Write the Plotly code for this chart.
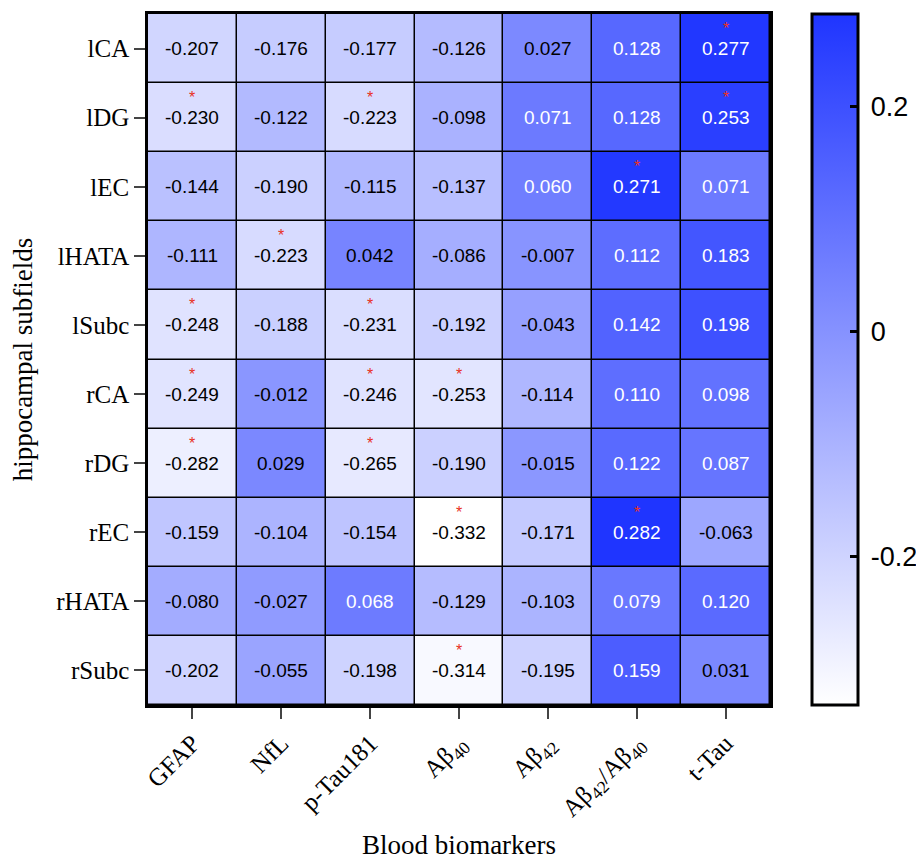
import plotly.graph_objects as go

subfields = ["lCA", "lDG", "lEC", "lHATA", "lSubc", "rCA", "rDG", "rEC", "rHATA", "rSubc"]
biomarkers = ["GFAP", "NfL", "p-Tau181", "Aβ<sub>40</sub>", "Aβ<sub>42</sub>",
              "Aβ<sub>42</sub>/Aβ<sub>40</sub>", "t-Tau"]

r_lCA   = [-0.207, -0.176, -0.177, -0.126,  0.027, 0.128,  0.277]
r_lDG   = [-0.230, -0.122, -0.223, -0.098,  0.071, 0.128,  0.253]
r_lEC   = [-0.144, -0.190, -0.115, -0.137,  0.060, 0.271,  0.071]
r_lHATA = [-0.111, -0.223,  0.042, -0.086, -0.007, 0.112,  0.183]
r_lSubc = [-0.248, -0.188, -0.231, -0.192, -0.043, 0.142,  0.198]
r_rCA   = [-0.249, -0.012, -0.246, -0.253, -0.114, 0.110,  0.098]
r_rDG   = [-0.282,  0.029, -0.265, -0.190, -0.015, 0.122,  0.087]
r_rEC   = [-0.159, -0.104, -0.154, -0.332, -0.171, 0.282, -0.063]
r_rHATA = [-0.080, -0.027,  0.068, -0.129, -0.103, 0.079,  0.120]
r_rSubc = [-0.202, -0.055, -0.198, -0.314, -0.195, 0.159,  0.031]

sig_lCA   = [0, 0, 0, 0, 0, 0, 1]
sig_lDG   = [1, 0, 1, 0, 0, 0, 1]
sig_lEC   = [0, 0, 0, 0, 0, 1, 0]
sig_lHATA = [0, 1, 0, 0, 0, 0, 0]
sig_lSubc = [1, 0, 1, 0, 0, 0, 0]
sig_rCA   = [1, 0, 1, 1, 0, 0, 0]
sig_rDG   = [1, 0, 1, 0, 0, 0, 0]
sig_rEC   = [0, 0, 0, 1, 0, 1, 0]
sig_rHATA = [0, 0, 0, 0, 0, 0, 0]
sig_rSubc = [0, 0, 0, 1, 0, 0, 0]

cbar_ticks = [-0.2, 0, 0.2]
cbar_ticktext = ["-0.2", "0", "0.2"]

z = [r_lCA, r_lDG, r_lEC, r_lHATA, r_lSubc, r_rCA, r_rDG, r_rEC, r_rHATA, r_rSubc]
sig = [sig_lCA, sig_lDG, sig_lEC, sig_lHATA, sig_lSubc, sig_rCA, sig_rDG, sig_rEC, sig_rHATA, sig_rSubc]

zmin = min(min(r) for r in z)
zmax = max(max(r) for r in z)

fig = go.Figure(go.Heatmap(
    z=z, x=biomarkers, y=subfields,
    zmin=zmin, zmax=zmax,
    colorscale=[[0, "#ffffff"], [1, "#1f35ff"]],
    xgap=1.5, ygap=1.5,
    hoverinfo="skip",
    colorbar=dict(
        x=1.068, xanchor="left", y=0.5, yanchor="middle",
        len=1.0, lenmode="fraction", ypad=0, xpad=0,
        thickness=46, outlinewidth=3, outlinecolor="black",
        tickvals=cbar_ticks, ticktext=["\u2009" + t for t in cbar_ticktext],
        ticks="inside", ticklen=9, tickwidth=2.5, tickcolor="black",
        tickfont=dict(family="Liberation Sans, Arial", size=27, color="black"),
    ),
))

annotations = []
for i, row in enumerate(z):
    for j, v in enumerate(row):
        annotations.append(dict(
            x=biomarkers[j], y=subfields[i], text=f"{v:.3f}", showarrow=False,
            font=dict(family="Liberation Sans, Arial", size=19,
                      color="white" if v > 0.05 else "black"),
        ))
        if sig[i][j]:
            annotations.append(dict(
                x=biomarkers[j], y=subfields[i], text="*", showarrow=False,
                yshift=20,
                font=dict(family="Liberation Sans, Arial", size=16, color="#e8321e"),
            ))

fig.update_layout(
    width=908, height=852,
    margin=dict(l=140, r=146, t=6, b=155, autoexpand=False),
    paper_bgcolor="white", plot_bgcolor="black",
    annotations=annotations,
    font=dict(family="Liberation Serif, Times New Roman", color="black"),
)
fig.update_xaxes(
    title=dict(text="Blood biomarkers", font=dict(size=27), standoff=15),
    tickangle=-45, tickfont=dict(size=25), ticks="outside", ticklen=11, tickwidth=1.5,
    showline=True, linewidth=2.5, linecolor="black", mirror=True, showgrid=False,
)
fig.update_yaxes(
    title=dict(text="hippocampal subfields", font=dict(size=27), standoff=16),
    autorange="reversed",
    tickfont=dict(size=25), ticks="outside", ticklen=11, tickwidth=1.5,
    showline=True, linewidth=2.5, linecolor="black", mirror=True, showgrid=False,
)

fig.write_html("out.html")
